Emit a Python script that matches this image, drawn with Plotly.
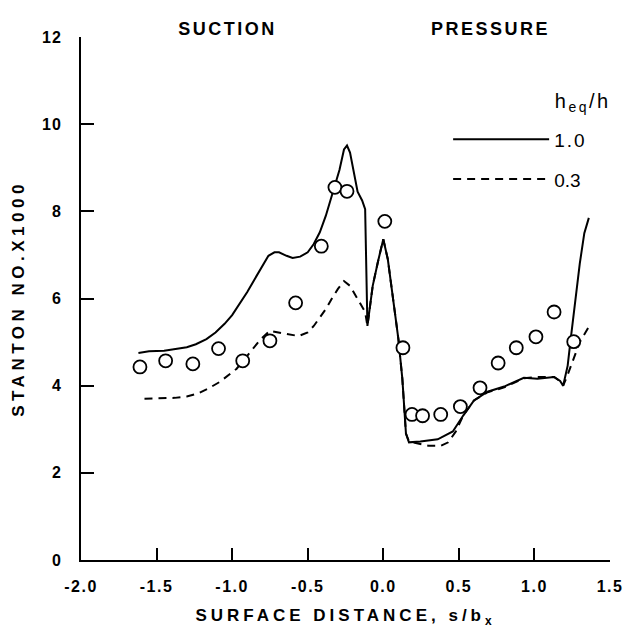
import plotly.graph_objects as go

# ---- data ----
meas_x = [-1.61, -1.44, -1.26, -1.09, -0.93, -0.75, -0.58, -0.41, -0.32, -0.24, 0.01,
          0.13, 0.19, 0.26, 0.38, 0.51, 0.64, 0.76, 0.88, 1.01, 1.13, 1.26]
meas_y = [4.43, 4.57, 4.50, 4.85, 4.57, 5.03, 5.90, 7.20, 8.55, 8.46, 7.77,
          4.87, 3.34, 3.31, 3.34, 3.52, 3.95, 4.52, 4.87, 5.12, 5.69, 5.01]

h10_x = [-1.62, -1.55, -1.45, -1.38, -1.30, -1.24, -1.17, -1.11, -1.05, -1.00, -0.95,
         -0.90, -0.85, -0.80, -0.76, -0.72, -0.69, -0.64, -0.60, -0.55, -0.50, -0.46,
         -0.42, -0.38, -0.35, -0.33, -0.29, -0.26, -0.24, -0.22, -0.19, -0.17, -0.14,
         -0.12, -0.105, -0.07, -0.035, 0.0, 0.03, 0.066, 0.10, 0.126, 0.14, 0.15,
         0.17, 0.245, 0.36, 0.46, 0.53, 0.60, 0.69, 0.80, 0.93, 1.02, 1.13, 1.17,
         1.19, 1.22, 1.24, 1.27, 1.30, 1.33, 1.36]
h10_y = [4.75, 4.79, 4.80, 4.83, 4.88, 4.95, 5.07, 5.22, 5.42, 5.62, 5.88,
         6.15, 6.45, 6.75, 6.98, 7.06, 7.06, 6.98, 6.93, 6.96, 7.06, 7.25,
         7.52, 7.90, 8.27, 8.50, 8.95, 9.42, 9.51, 9.35, 8.80, 8.45, 8.25,
         8.05, 5.37, 6.29, 6.85, 7.36, 6.90, 6.00, 5.07, 4.16, 3.25, 2.90,
         2.70, 2.72, 2.77, 2.95, 3.32, 3.66, 3.86, 3.98, 4.18, 4.16, 4.20, 4.11,
         4.00, 4.46, 5.07, 5.99, 6.80, 7.50, 7.85]

h03_x = [-1.58, -1.45, -1.38, -1.30, -1.22, -1.16, -1.08, -0.97, -0.89, -0.81, -0.75,
         -0.70, -0.65, -0.56, -0.50, -0.46, -0.38, -0.34, -0.30, -0.26, -0.22, -0.17,
         -0.12, -0.105, -0.07, -0.035, 0.0, 0.03, 0.066, 0.10, 0.126, 0.14, 0.15,
         0.17, 0.25, 0.30, 0.38, 0.43, 0.48, 0.53, 0.60, 0.69, 0.80, 0.93, 1.02,
         1.13, 1.17, 1.19, 1.22, 1.27, 1.30, 1.36]
h03_y = [3.70, 3.71, 3.72, 3.75, 3.83, 3.93, 4.09, 4.39, 4.73, 5.07, 5.26,
         5.22, 5.19, 5.14, 5.22, 5.37, 5.76, 6.00, 6.22, 6.40, 6.29, 5.99,
         5.69, 5.37, 6.29, 6.85, 7.36, 6.90, 6.00, 5.07, 4.16, 3.25, 2.90,
         2.72, 2.66, 2.62, 2.62, 2.70, 2.95, 3.32, 3.66, 3.85, 3.96, 4.17, 4.20,
         4.20, 4.10, 4.00, 4.25, 4.69, 5.00, 5.35]

x_ticks = [-2.0, -1.5, -1.0, -0.5, 0.0, 0.5, 1.0, 1.5]
x_ticktext = ["-2.0", "-1.5", "-1.0", "-0.5", "0.0", "0.5", "1.0", "1.5"]
y_ticks = [0, 2, 4, 6, 8, 10, 12]
y_ticktext = ["0", "2", "4", "6", "8", "10", "12"]

FONT = "Liberation Sans, Arial, sans-serif"

fig = go.Figure()
fig.add_trace(go.Scatter(x=h10_x, y=h10_y, mode="lines", name="1.0",
                         line=dict(color="black", width=2), legend="legend"))
fig.add_trace(go.Scatter(x=h03_x, y=h03_y, mode="lines", name="0.3",
                         line=dict(color="black", width=2, dash="8px,6px"), legend="legend2"))
fig.add_trace(go.Scatter(x=meas_x, y=meas_y, mode="markers", showlegend=False,
                         marker=dict(symbol="circle", size=13, color="white",
                                     line=dict(color="black", width=1.8))))

axis_common = dict(showgrid=False, zeroline=False, showline=True, linecolor="black",
                   linewidth=2, ticks="inside", tickcolor="black", tickwidth=2,
                   mirror=False)

fig.update_layout(
    width=636, height=634,
    margin=dict(l=81, r=26, t=37, b=72),
    paper_bgcolor="white", plot_bgcolor="white",
    font=dict(family=FONT, color="black"),
    xaxis=dict(range=[-2, 1.5], tickvals=x_ticks, ticktext=x_ticktext, ticklen=12,
               tickfont=dict(size=16, weight="bold"), ticklabelstandoff=11,
               title=dict(text="SURFACE DISTANCE, s/b<sub>x</sub>",
                          font=dict(size=17, weight="bold"), standoff=15),
               **axis_common),
    yaxis=dict(range=[0, 12], tickvals=y_ticks, ticktext=y_ticktext, ticklen=13,
               tickfont=dict(size=16, weight="bold"), ticklabelstandoff=14,
               title=dict(text="STANTON NO.X1000",
                          font=dict(size=17, weight="bold"), standoff=15),
               **axis_common),
    legend=dict(x=0.694, y=0.804, xanchor="left", yanchor="middle",
                bgcolor="rgba(0,0,0,0)", itemwidth=96,
                font=dict(size=19, family=FONT)),
    legend2=dict(x=0.694, y=0.728, xanchor="left", yanchor="middle",
                 bgcolor="rgba(0,0,0,0)", itemwidth=96,
                 font=dict(size=19, family=FONT)),
    annotations=[
        dict(text="SUCTION", x=-1.03, y=1.015, xref="x", yref="paper",
             showarrow=False, xanchor="center", yanchor="middle",
             font=dict(size=18, weight="bold")),
        dict(text="PRESSURE", x=0.71, y=1.015, xref="x", yref="paper",
             showarrow=False, xanchor="center", yanchor="middle",
             font=dict(size=18, weight="bold")),
        dict(text="h<sub>eq</sub>/h", x=1.32, y=(562 - 103) / 525, xref="x", yref="paper",
             showarrow=False, xanchor="center", yanchor="middle",
             font=dict(size=20)),
    ],
)

post = """
(function(){
  document.documentElement.style.margin = '0';
  document.body.style.margin = '0';
  document.body.style.padding = '0';
  var gd = document.getElementById('{plot_id}');
  function ls(){
    var set = function(sel, v){ gd.querySelectorAll(sel).forEach(function(e){ e.style.letterSpacing = v; }); };
    set('g.g-xtitle text', '4px');
    set('g.g-ytitle text', '4.5px');
    set('g.annotation-text-g text', '2.5px');
    set('g.xtick text', '1.5px');
    set('g.ytick text', '1px');
    set('text.legendtext', '2px');
  }
  ls();
  setTimeout(ls, 50);
  if (gd.on) { gd.on('plotly_afterplot', ls); }
})();
"""

fig.write_html("out.html", post_script=post, config={"displayModeBar": False})
